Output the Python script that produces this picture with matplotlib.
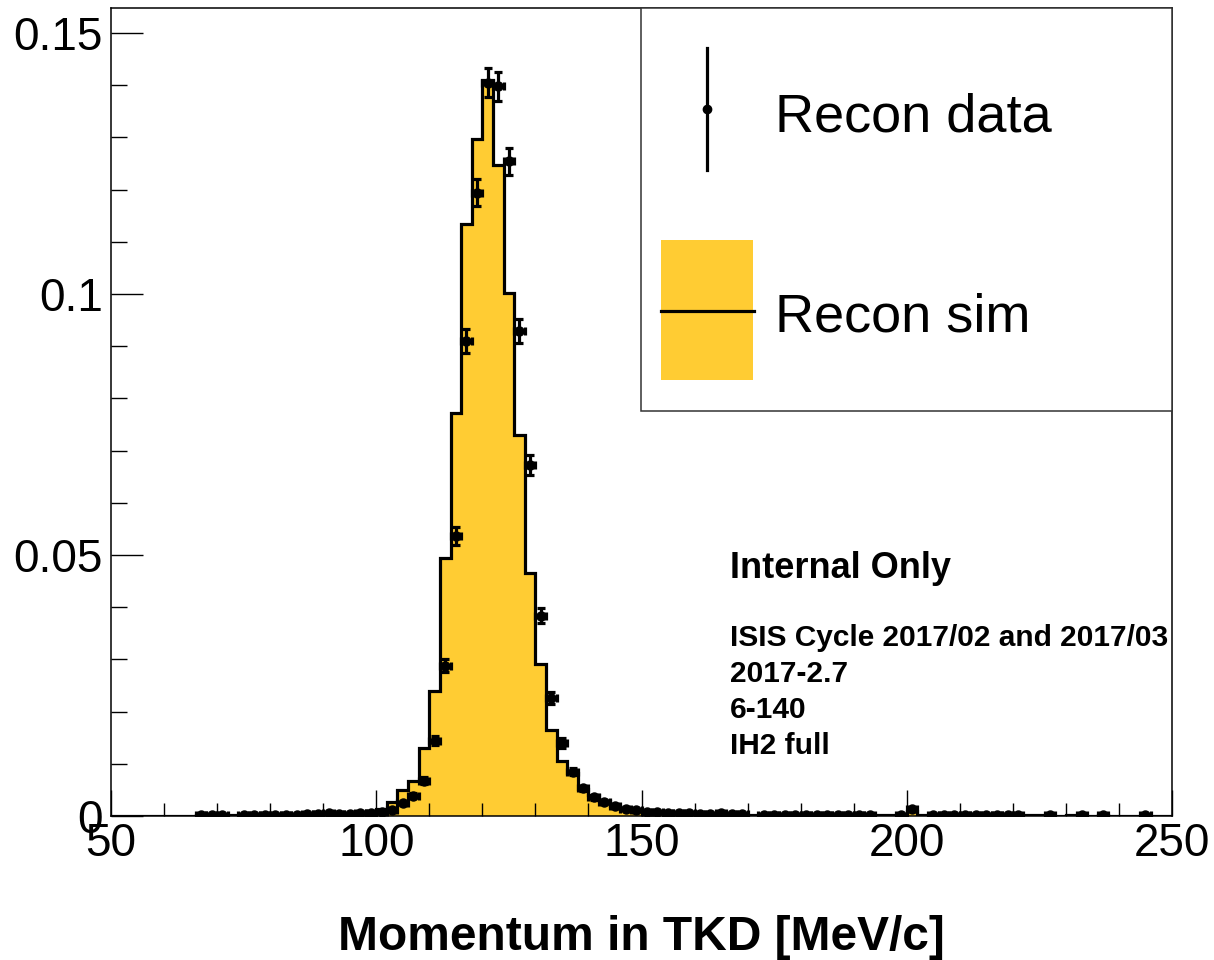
import numpy as np
import matplotlib
matplotlib.use("Agg")
import matplotlib.pyplot as plt
from matplotlib.patches import Rectangle
from matplotlib.lines import Line2D

plt.rcParams['font.family'] = ['Liberation Sans', 'DejaVu Sans']

# simulated histogram, 2 MeV/c bins from 50 to 250
sim_edges = np.arange(50, 252, 2)
sim_vals = [0, 0, 0, 0, 0, 0, 0, 0,
            0.0001, 0.0001, 0.0001, 0.0001, 0.0001, 0.0001, 0.0002, 0.0002, 0.0002, 0.0002, 0.0003,
            0.0003, 0.0004, 0.0004, 0.0005, 0.0006, 0.0009, 0.0013,
            0.0027, 0.0049, 0.0068, 0.0131, 0.0240, 0.0495, 0.0773, 0.1134, 0.1297, 0.1410,
            0.1247, 0.1002, 0.0729, 0.0465, 0.0292, 0.0165, 0.0105, 0.0082, 0.0052, 0.0040,
            0.0029, 0.0020, 0.0014, 0.0010,
            0.0006, 0.0005, 0.0004, 0.0004, 0.0003,
            0.0003, 0.0003, 0.0002, 0.0002, 0.0002, 0.0002, 0.0002, 0.0002, 0.0002, 0.0002,
            0.0001, 0.0001, 0.0002, 0.0001, 0.0001, 0.0001, 0.0001, 0.0001, 0.0001, 0.0001,
            0.0009,
            0.0001, 0.0001, 0.0001, 0.0001, 0.0001, 0.0001, 0.0001, 0.0001, 0.0001, 0.0001,
            0.0001, 0.0001, 0, 0, 0.0001, 0, 0, 0.0001, 0, 0, 0, 0, 0, 0]

# reconstructed data points (bin centres)
data_x = [67, 69, 71, 75, 77, 79, 81, 83, 85, 87, 89, 91, 93, 95, 97, 99,
          101, 103, 105, 107, 109, 111, 113, 115, 117, 119, 121, 123, 125, 127, 129,
          131, 133, 135, 137, 139, 141, 143, 145, 147, 149, 151, 153, 155, 157, 159,
          161, 163, 165, 167, 169, 173, 175, 177, 179, 181, 183, 185, 187, 189, 191,
          193, 199, 201, 205, 207, 209, 211, 213, 215, 217, 219, 221, 227, 233, 237, 245]
data_y = [0.0001, 0.0001, 0.0001, 0.0001, 0.0001, 0.0001, 0.0002, 0.0002, 0.0002, 0.0003,
          0.0004, 0.0005, 0.0003, 0.0004, 0.0006, 0.0005,
          0.0007, 0.0012, 0.0024, 0.0039, 0.0068, 0.0144, 0.0288, 0.0536, 0.0910, 0.1194,
          0.1405, 0.1398, 0.1254, 0.0929, 0.0672,
          0.0384, 0.0226, 0.0140, 0.0085, 0.0053, 0.0036, 0.0026, 0.0019, 0.0014, 0.0011,
          0.0008, 0.0007, 0.0006, 0.0005, 0.0005,
          0.0004, 0.0004, 0.0005, 0.0004, 0.0003, 0.0002, 0.0002, 0.0002, 0.0002, 0.0002,
          0.0002, 0.0002, 0.0002, 0.0002, 0.0002,
          0.0002, 0.0002, 0.0013, 0.0002, 0.0002, 0.0002, 0.0002, 0.0002, 0.0002, 0.0002,
          0.0002, 0.0002, 0.0001, 0.0001, 0.0001, 0.0001]
data_err = [0.00007, 0.00007, 0.00007, 0.00007, 0.00007, 0.00007, 0.00011, 0.00011, 0.00011, 0.00013,
            0.00015, 0.00017, 0.00013, 0.00015, 0.00018, 0.00017,
            0.0002, 0.00026, 0.00036, 0.00046, 0.00061, 0.00089, 0.00126, 0.00172, 0.00224, 0.00256,
            0.00278, 0.00277, 0.00263, 0.00226, 0.00192,
            0.00145, 0.00111, 0.00088, 0.00068, 0.00054, 0.00045, 0.00038, 0.00032, 0.00028, 0.00025,
            0.00021, 0.0002, 0.00018, 0.00017, 0.00017,
            0.00015, 0.00015, 0.00017, 0.00015, 0.00013, 0.00011, 0.00011, 0.00011, 0.00011, 0.00011,
            0.00011, 0.00011, 0.00011, 0.00011, 0.00011,
            0.00011, 0.00011, 0.00027, 0.00011, 0.00011, 0.00011, 0.00011, 0.00011, 0.00011, 0.00011,
            0.00011, 0.00011, 0.00007, 0.00007, 0.00007, 0.00007]

y_ticks = [0, 0.05, 0.1, 0.15]
y_ticklabels = ['0', '0.05', '0.1', '0.15']
x_ticks = [50, 100, 150, 200, 250]

info_lines = ['ISIS Cycle 2017/02 and 2017/03', '2017-2.7', '6-140', 'IH2 full']

sim_color = '#ffcc33'

fig = plt.figure(figsize=(12.14, 9.6), dpi=100)
ax = fig.add_axes([111 / 1214, 144 / 960, (1172 - 111) / 1214, (816 - 8) / 960])

ax.stairs(sim_vals, sim_edges, fill=True, color=sim_color, zorder=1)
ax.stairs(sim_vals, sim_edges, color='black', linewidth=2.3, zorder=2)
ax.errorbar(data_x, data_y, yerr=data_err, xerr=1, fmt='o', color='black', ms=6.5,
            elinewidth=2.3, capsize=3, capthick=2.3, zorder=3)

ax.set_xlim(50, 250)
ax.set_ylim(0, 0.1548)
ax.set_xticks(x_ticks)
ax.set_xticklabels([str(t) for t in x_ticks])
ax.set_xticks(np.arange(50, 251, 10), minor=True)
ax.set_yticks(y_ticks)
ax.set_yticklabels(y_ticklabels)
ax.set_yticks(np.arange(0, 0.155, 0.01), minor=True)

ax.tick_params(axis='y', which='major', direction='in', length=23, width=1, labelsize=33, pad=6)
ax.tick_params(axis='y', which='minor', direction='in', length=11.5, width=1)
ax.tick_params(axis='x', which='major', direction='in', length=19, width=1, labelsize=33, pad=4)
ax.tick_params(axis='x', which='minor', direction='in', length=9.5, width=1)
for s in ax.spines.values():
    s.set_linewidth(1.1)

fig.text(0.5285, 1 - 950 / 960, 'Momentum in TKD [MeV/c]', fontsize=34.5, fontweight='bold',
         ha='center', va='baseline')

# annotations
fig.text(730 / 1214, 1 - 578 / 960, 'Internal Only', fontsize=26, fontweight='bold', va='baseline')
for i, line in enumerate(info_lines):
    fig.text(730 / 1214, 1 - (646 + 36 * i) / 960, line, fontsize=21.5, fontweight='bold',
             va='baseline')

# legend drawn by hand
lx0, lx1 = 641 / 1214, 1172 / 1214
ly0, ly1 = 1 - 411 / 960, 1 - 8 / 960
fig.add_artist(Rectangle((lx0, ly0), lx1 - lx0, ly1 - ly0, transform=fig.transFigure,
                         facecolor='white', edgecolor='#333333', linewidth=1.1, zorder=5))
fig.add_artist(Line2D([707 / 1214, 707 / 1214], [1 - 48 / 960, 1 - 170 / 960],
                      transform=fig.transFigure, color='black', linewidth=2.3, zorder=6))
fig.add_artist(Line2D([707 / 1214], [1 - 109 / 960], transform=fig.transFigure, marker='o',
                      color='black', ms=6, zorder=6))
fig.add_artist(Rectangle((661 / 1214, 1 - 380 / 960), 92 / 1214, 140 / 960,
                         transform=fig.transFigure, facecolor=sim_color, edgecolor='none', zorder=6))
fig.add_artist(Line2D([661 / 1214, 754 / 1214], [1 - 311 / 960, 1 - 311 / 960],
                      transform=fig.transFigure, color='black', linewidth=2.3, zorder=7))
fig.text(775 / 1214, 1 - 132 / 960, 'Recon data', fontsize=39, va='baseline', zorder=7)
fig.text(775 / 1214, 1 - 331 / 960, 'Recon sim', fontsize=39, va='baseline', zorder=7)

fig.savefig('out.png', dpi=100)
